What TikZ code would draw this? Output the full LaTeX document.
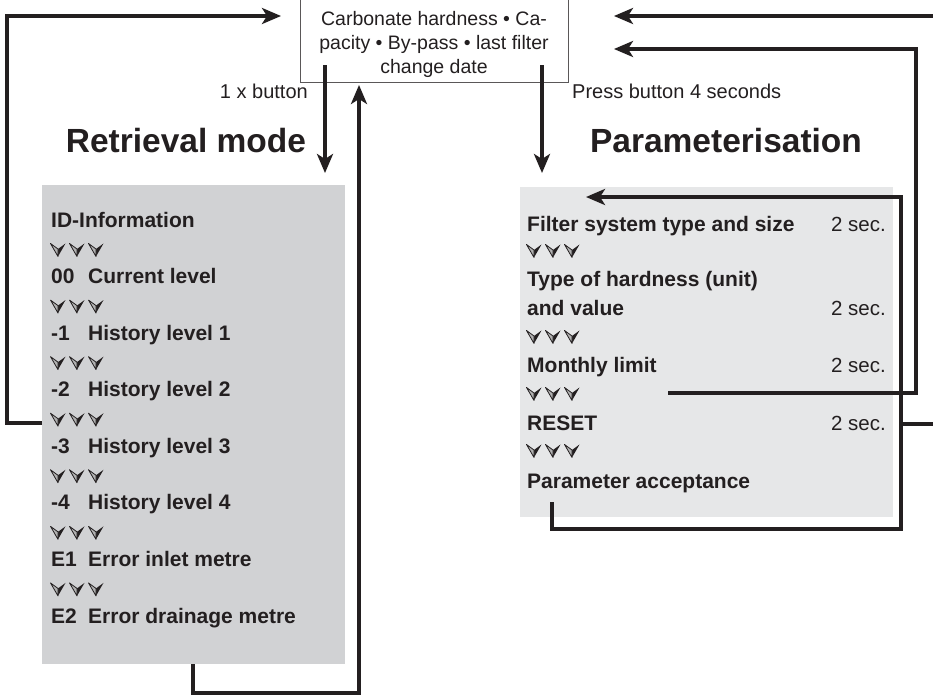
\documentclass[tikz,border=0pt]{standalone}
\usepackage{fontspec}
\setmainfont{Liberation Sans}
\usetikzlibrary{arrows.meta}
\definecolor{lgray}{RGB}{209,210,212}
\definecolor{rgray}{RGB}{230,231,232}
\definecolor{ink}{RGB}{35,31,32}
\tikzset{
  conn/.style={draw=ink, line width=3.4pt},
  arr/.style={conn, -{Stealth[length=19pt,width=16pt,inset=5pt]}},
  item/.style={anchor=base west, font=\fontsize{21}{24}\selectfont\bfseries, inner sep=0pt, text=ink},
  secs/.style={anchor=base east, font=\fontsize{20.5}{24}\selectfont, inner sep=0pt, text=ink},
  head/.style={anchor=base, font=\fontsize{33.5}{38}\selectfont\bfseries, text=ink, inner sep=0pt},
  lbl/.style={font=\fontsize{20}{22}\selectfont, text=ink, inner sep=0pt},
  toptxt/.style={anchor=base, font=\fontsize{19.5}{24}\selectfont, text=ink, inner sep=0pt},
  panel/.style={anchor=north west, inner sep=0pt, draw=none},
  darts/.pic={
    \foreach \dx in {7,26,45}{
      \fill[ink] (\dx,-1) -- (\dx+7.5,-6.5) -- (\dx,6.5) -- cycle;
      \filldraw[fill=black!30, draw=ink, line width=0.8pt, line join=round] (\dx,-1) -- (\dx-7.5,-6.5) -- (\dx,6.5) -- cycle;
    }
  }
}
\begin{document}
\begin{tikzpicture}[x=1pt,y=-1pt]
\useasboundingbox (0,0) rectangle (933,696);

% panels
\node[panel, fill=lgray, minimum width=303pt, minimum height=479pt] (lbox) at (42,185) {};
\node[panel, fill=rgray, minimum width=373pt, minimum height=330pt] (rbox) at (520,187) {};

% top box
\node[draw=ink!75, line width=1.2pt, minimum width=268pt, minimum height=86pt, anchor=south west, inner sep=0pt] (topbox) at (300,83) {};
\node[toptxt] (top1) at (434,25) {Carbonate hardness • Ca-};
\node[toptxt] (top2) at (434,49) {pacity • By-pass • last filter};
\node[toptxt] (top3) at (434,73) {change date};

% labels and headings
\node[lbl, anchor=base east] (lbl1) at (308,98) {1 x button};
\node[lbl, anchor=base west] (lbl2) at (572,98) {Press button 4 seconds};
\node[head] (hret) at (186,152) {Retrieval mode};
\node[head] (hpar) at (726,152) {Parameterisation};

% left list
\node[item] (l0) at (51,227) {ID-Information};
\foreach \n/\a/\b [count=\k] in {1/00/Current level,2/-1/History level 1,3/-2/History level 2,4/-3/History level 3,5/-4/History level 4,6/E1/Error inlet metre,7/E2/Error drainage metre}{
  \node[item] (ln\n) at (51,{227+56.57*\k}) {\a};
  \node[item] (lt\n) at (88,{227+56.57*\k}) {\b};
}
\foreach \k in {0,...,6}{
  \pic at (51,{250+56.57*\k}) {darts};
}

% right list
\node[item] (r1) at (527,231) {Filter system type and size};
\node[secs] (s1) at (886,231) {2 sec.};
\node[item] (r2) at (527,286) {Type of hardness (unit)};
\node[item] (r2b) at (527,315) {and value};
\node[secs] (s2) at (886,315) {2 sec.};
\node[item] (r3) at (527,372) {Monthly limit};
\node[secs] (s3) at (886,372) {2 sec.};
\node[item] (r4) at (527,430) {RESET};
\node[secs] (s4) at (886,430) {2 sec.};
\node[item] (r5) at (527,488) {Parameter acceptance};
\pic at (527,251) {darts};
\pic at (527,337) {darts};
\pic at (527,394) {darts};
\pic at (527,451) {darts};

% connector end points
\coordinate (lentry) at (42,423);
\coordinate (tltip) at (281,16);
\coordinate (ld0) at (325,65);
\coordinate (ld1) at (325,173);
\coordinate (rd0) at (542,65);
\coordinate (rd1) at (542,173);
\coordinate (lbot) at (193,664);
\coordinate (uptip) at (359,85);
\coordinate (pstart) at (552,502);
\coordinate (ptip) at (586,197);
\coordinate (mstart) at (668,393);
\coordinate (mtip) at (614,49);
\coordinate (rstart) at (901,424);
\coordinate (redge) at (933,424);
\coordinate (tredge) at (933,16);
\coordinate (trtip) at (614,16);

% connectors
\draw[arr] (lentry) -- (7,423) |- (tltip);
\draw[arr] (ld0) -- (ld1);
\draw[arr] (rd0) -- (rd1);
\draw[arr] (lbot) -- (193,693) -| (uptip);
\draw[arr] (pstart) -- (552,529) -| (901,197) -- (ptip);
\draw[arr] (mstart) -| (916,49) -- (mtip);
\draw[conn] (rstart) -- (redge);
\draw[arr] (tredge) -- (trtip);
\end{tikzpicture}
\end{document}
